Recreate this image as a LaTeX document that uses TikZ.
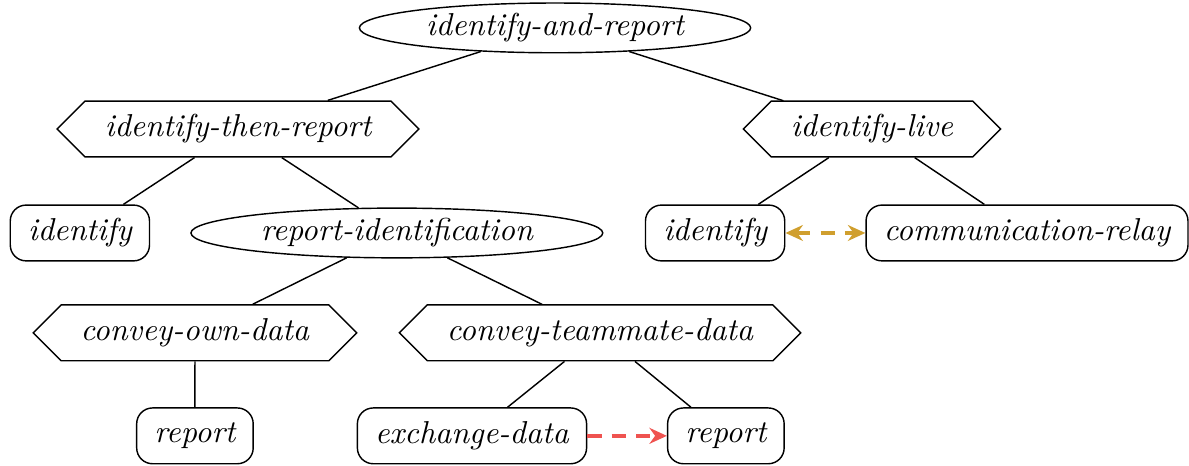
\documentclass[tikz,border=0pt]{standalone}
\usepackage{xcolor}
\usepackage{tikz}
\usetikzlibrary{shapes.geometric,shapes.symbols,arrows.meta,positioning}
\definecolor{cLink}{HTML}{D09F2E}
\definecolor{cSeq}{HTML}{EF5350}
\tikzset{
  task/.style  = {rectangle, rounded corners=5pt, draw=black, line width=0.45pt,
                  inner xsep=5.6pt, minimum height=17.6pt, font=\itshape},
  goal/.style  = {ellipse, draw=black, line width=0.45pt, inner xsep=3pt,
                  inner ysep=1pt, font=\itshape},
  meth/.style  = {signal, signal to=west and east, draw=black, line width=0.45pt,
                  inner xsep=6.2pt, minimum height=17.6pt, font=\itshape},
  tr/.style    = {draw=black, line width=0.45pt},
  lnk/.style   = {{Stealth[length=5.5pt,width=5pt]}-{Stealth[length=5.5pt,width=5pt]},
                  draw=cLink, line width=1.1pt, dash pattern=on 4.5pt off 3.2pt},
  seqlnk/.style= {-{Stealth[length=5.5pt,width=5pt]}, draw=cSeq, line width=1.1pt,
                  dash pattern=on 4.5pt off 3.2pt},
}

\begin{document}
\begin{tikzpicture}[x=1pt, y=1pt]
  \useasboundingbox (0,0) rectangle (375.1,-146.7);

  % levels of the tree
  \node[goal] (g0)  at (175.1,-8.8)   {identify-and-report};
  \node[meth] (m1)  at (75.1,-40.7)   {identify-then-report};
  \node[meth] (m2)  at (275.1,-40.7)  {identify-live};
  \node[task] (t1)  at (25.2,-73.5)   {identify};
  \node[goal] (g1)  at (125.2,-73.5)  {report-identification};
  \node[task] (t2)  at (225.6,-73.5)  {identify};
  \node[task] (t3)  at (324.0,-73.5)  {communication-relay};
  \node[meth] (m3)  at (61.5,-105.0)  {convey-own-data};
  \node[meth] (m4)  at (189.3,-105.0) {convey-teammate-data};
  \node[task] (t4)  at (61.5,-137.5)  {report};
  \node[task] (t5)  at (148.9,-137.5) {exchange-data};
  \node[task] (t6)  at (229.0,-137.5) {report};

  \draw[tr] (g0) -- (m1);
  \draw[tr] (g0) -- (m2);
  \draw[tr] (m1) -- (t1);
  \draw[tr] (m1) -- (g1);
  \draw[tr] (m2) -- (t2);
  \draw[tr] (m2) -- (t3);
  \draw[tr] (g1) -- (m3);
  \draw[tr] (g1) -- (m4);
  \draw[tr] (m3) -- (t4);
  \draw[tr] (m4) -- (t5);
  \draw[tr] (m4) -- (t6);

  % links between siblings
  \draw[lnk] (t2) -- (t3);
  \draw[seqlnk] (t5) -- (t6);
\end{tikzpicture}
\end{document}
